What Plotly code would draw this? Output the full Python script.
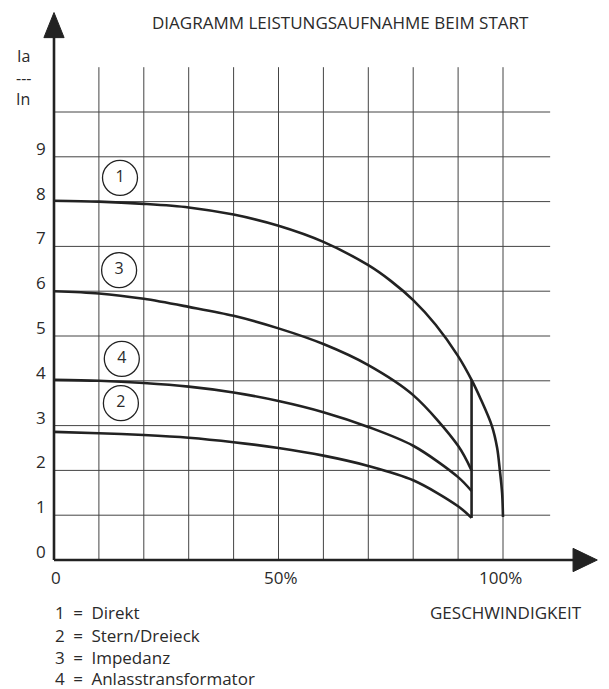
import plotly.graph_objects as go

# speed in % of nominal, current ratio Ia/In
direkt_x = [0, 10, 20, 30, 40, 50, 60, 70, 75, 80, 85, 90, 93, 95, 97.5, 98.7, 99.3, 99.8, 100]
direkt_y = [8.02, 8.0, 7.95, 7.87, 7.71, 7.46, 7.1, 6.58, 6.23, 5.8, 5.25, 4.55, 4.02, 3.6, 3.0, 2.5, 2.0, 1.5, 0.96]

stern_x = [0, 10, 20, 30, 40, 50, 60, 70, 80, 90, 93]
stern_y = [2.86, 2.83, 2.79, 2.73, 2.63, 2.5, 2.33, 2.1, 1.78, 1.2, 0.94]

impedanz_x = [0, 10, 20, 30, 40, 50, 60, 70, 80, 90, 93]
impedanz_y = [6.0, 5.95, 5.83, 5.65, 5.45, 5.17, 4.82, 4.35, 3.68, 2.55, 2.0]

trafo_x = [0, 10, 20, 30, 40, 50, 60, 70, 80, 90, 93]
trafo_y = [4.02, 4.0, 3.95, 3.87, 3.74, 3.55, 3.3, 2.97, 2.55, 1.85, 1.54]

switch_x = [93, 93]
switch_y = [4.02, 0.94]

y_ticks = [0, 1, 2, 3, 4, 5, 6, 7, 8, 9]
x_ticks = [0, 50, 100]
x_tick_labels = ["0", "50%", "100%"]

circle_labels = ["1", "3", "4", "2"]
circle_x = [14.7, 14.5, 15.1, 14.9]
circle_y = [8.53, 6.47, 4.49, 3.5]

legend_lines = ["1\u2002=\u2002Direkt", "2\u2002=\u2002Stern/Dreieck",
                "3\u2002=\u2002Impedanz", "4\u2002=\u2002Anlasstransformator"]

ink = "#222"
txt = "#2a2a2a"
grid = "#444"
font = "Open Sans"
fs = 17

# pixel scale: 4.49 px per %, 44.8 px per unit; page body margin of 8 px
W, H = 601, 681
X0, XS = 46, 4.49
Y0, YS = 552, 44.8

fig = go.Figure()

for xs, ys in [(direkt_x, direkt_y), (impedanz_x, impedanz_y),
               (trafo_x, trafo_y), (stern_x, stern_y), (switch_x, switch_y)]:
    fig.add_trace(go.Scatter(
        x=xs, y=ys, mode="lines",
        line=dict(color=ink, width=2.6, shape="spline", smoothing=0.9),
        hoverinfo="skip"
    ))

fig.add_trace(go.Scatter(
    x=circle_x, y=circle_y, mode="markers+text",
    text=circle_labels, textposition="middle center",
    textfont=dict(family=font, size=16, color=txt),
    marker=dict(symbol="circle", size=35, color="white",
                line=dict(color=ink, width=1.3)),
    hoverinfo="skip"
))

shapes = []
for gx in range(10, 101, 10):
    shapes.append(dict(type="line", x0=gx, x1=gx, y0=0, y1=11.0,
                       line=dict(color=grid, width=1), layer="below"))
for gy in range(1, 11):
    shapes.append(dict(type="line", x0=0, x1=110.5, y0=gy, y1=gy,
                       line=dict(color=grid, width=1), layer="below"))

# axes with arrow heads
shapes.append(dict(type="line", x0=0, x1=0, y0=0, y1=11.7,
                   line=dict(color=ink, width=2.6)))
shapes.append(dict(type="path", path="M -2.25,11.66 L 0,12.22 L 2.25,11.66 Z",
                   fillcolor=ink, line=dict(color=ink, width=1)))
shapes.append(dict(type="line", x0=0, x1=116, y0=0, y1=0,
                   line=dict(color=ink, width=2.6)))
shapes.append(dict(type="path", path="M 115.6,0.26 L 121.0,0 L 115.6,-0.26 Z",
                   fillcolor=ink, line=dict(color=ink, width=1)))

annotations = []
for v in y_ticks:
    annotations.append(dict(x=-1.3, y=v + 0.19, text=str(v), showarrow=False,
                            xanchor="right", yanchor="middle",
                            font=dict(family=font, size=fs, color=txt)))
tick_pos = [0.5, 50.5, 99.5]
for v, t in zip(tick_pos, x_tick_labels):
    annotations.append(dict(x=v, y=-0.4, text=t, showarrow=False,
                            xanchor="center", yanchor="middle",
                            font=dict(family=font, size=fs, color=txt)))

for i, t in enumerate(["Ia", "---", "In"]):
    annotations.append(dict(x=-6.9, y=11.24 - i * 0.47, text=t, showarrow=False,
                            xanchor="center", yanchor="middle",
                            font=dict(family=font, size=16, color=txt)))

annotations.append(dict(x=63.7, y=11.99, text="DIAGRAMM LEISTUNGSAUFNAHME BEIM START",
                        showarrow=False, xanchor="center", yanchor="middle",
                        font=dict(family=font, size=fs, color=txt)))
annotations.append(dict(x=100.7, y=-1.18, text="GESCHWINDIGKEIT", showarrow=False,
                        xanchor="center", yanchor="middle",
                        font=dict(family=font, size=fs, color=txt)))
legend_y = [-1.17, -1.69, -2.17, -2.64]
for t, ly in zip(legend_lines, legend_y):
    annotations.append(dict(x=-0.3, y=ly, text=t, showarrow=False,
                            xanchor="left", yanchor="middle",
                            font=dict(family=font, size=fs, color=txt)))

fig.update_layout(
    width=W, height=H,
    margin=dict(l=0, r=0, t=0, b=0),
    paper_bgcolor="white", plot_bgcolor="white",
    showlegend=False,
    xaxis=dict(range=[-X0 / XS, (W - X0) / XS], visible=False, fixedrange=True),
    yaxis=dict(range=[(Y0 - H) / YS, Y0 / YS], visible=False, fixedrange=True),
    shapes=shapes,
    annotations=annotations
)

fig.write_html("out.html")
